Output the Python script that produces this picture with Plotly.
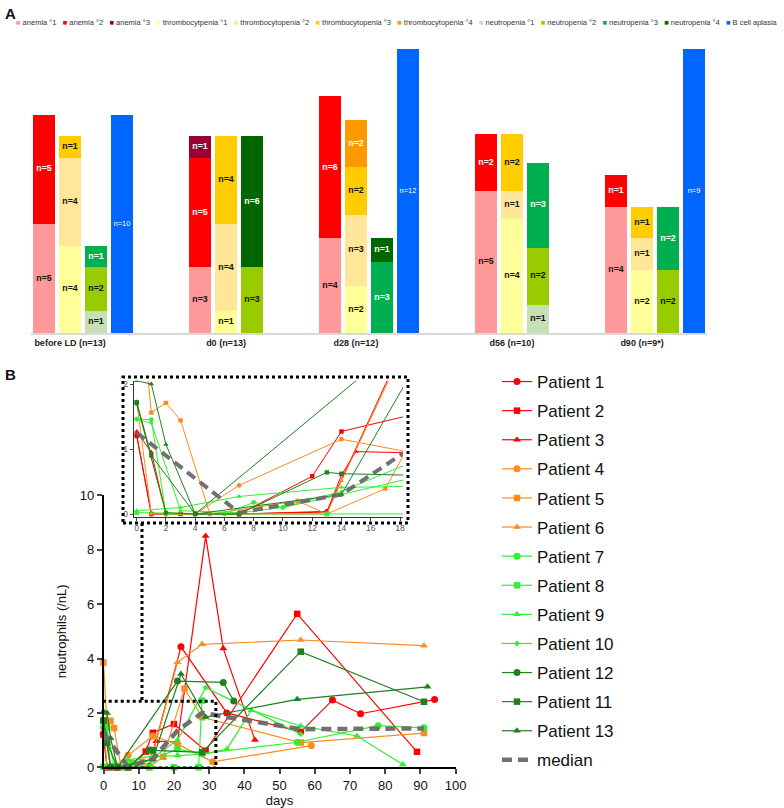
import plotly.graph_objects as go

W, H = 784, 808
FONT = "Liberation Sans, Arial, Helvetica, sans-serif"

# ---------------- Panel A data ----------------
groups = ["before LD (n=13)", "d0 (n=13)", "d28 (n=12)", "d56 (n=10)", "d90 (n=9*)"]
group_n = [13, 13, 12, 10, 9]

anemia_1 = [5, 3, 4, 5, 4]
anemia_2 = [5, 5, 6, 2, 1]
anemia_3 = [0, 1, 0, 0, 0]
thrombo_1 = [4, 1, 2, 4, 2]
thrombo_2 = [4, 4, 3, 1, 1]
thrombo_3 = [1, 4, 2, 2, 1]
thrombo_4 = [0, 0, 2, 0, 0]
neutro_1 = [1, 0, 0, 1, 0]
neutro_2 = [2, 3, 0, 2, 2]
neutro_3 = [1, 0, 3, 3, 2]
neutro_4 = [0, 6, 1, 0, 0]
bcell = [10, 0, 12, 0, 9]

series_names = ["anemia °1", "anemia °2", "anemia °3",
                "thrombocytpenia °1", "thrombocytopenia °2", "thrombocytopenia °3", "thrombocytopenia °4",
                "neutropenia °1", "neutropenia °2", "neutropenia °3", "neutropenia °4", "B cell aplasia"]
series_counts = [anemia_1, anemia_2, anemia_3, thrombo_1, thrombo_2, thrombo_3, thrombo_4,
                 neutro_1, neutro_2, neutro_3, neutro_4, bcell]
series_stack = [0, 0, 0, 1, 1, 1, 1, 2, 2, 2, 2, 3]

colors_A = ["#FF9999", "#FF0000", "#990033", "#FFFF99", "#FFE699", "#FFCC00", "#FF9900",
            "#C6E0B4", "#99CC00", "#00B050", "#006600", "#0066FF"]
textcol_A = ["#111", "#fff", "#fff", "#111", "#111", "#111", "#fff",
             "#111", "#111", "#fff", "#fff", "#fff"]

# ---------------- Panel B data ----------------
p1_days = [0, 1, 2, 7, 13, 22, 35, 56, 65, 73, 94]
p1_vals = [1.22, 0, 0, 0, 0.04, 4.43, 2.0, 1.3, 2.47, 1.97, 2.49]
p2_days = [0, 1, 3, 7, 12, 14, 20, 29, 55, 89]
p2_vals = [1.2, 0, 0, 0, 0.58, 1.27, 1.59, 0.61, 5.64, 0.57]
p3_days = [0, 1, 2, 7, 13, 14, 15, 21, 29, 34, 43]
p3_vals = [1.27, 0.95, 0, 0, 0.03, 0.6, 0.96, 0.93, 8.5, 4.37, 1.0]
p4_days = [0, 2, 4, 7, 14, 21, 31, 59]
p4_vals = [1.72, 0, 0, 0.44, 1.15, 0.85, 0.2, 0.8]
p5_days = [0, 1, 2, 3, 5, 11, 13, 17, 23, 28, 56, 91]
p5_vals = [3.85, 1.56, 1.71, 1.44, 0, 0.2, 0, 0.39, 2.89, 1.84, 0.91, 1.26]
p6_days = [0, 1, 3, 7, 13, 14, 21, 28, 56, 91]
p6_vals = [1.73, 0, 0, 0, 0, 0.51, 3.86, 4.52, 4.68, 4.47]
p7_days = [0, 1, 2, 6, 8, 10, 14, 21, 28, 55, 78, 91]
p7_vals = [1.46, 1.45, 0, 0, 0.18, 0.1, 0.3, 0.67, 0.5, 0.92, 1.53, 1.45]
p8_days = [0, 7, 13, 20, 27, 28]
p8_vals = [0.02, 0, 0, 0, 0, 2.45]
p9_days = [0, 3, 7, 14, 21, 28, 35, 42, 56, 72, 85]
p9_vals = [0.05, 0.1, 0.27, 0.41, 0.43, 0.48, 0.66, 2.1, 1.52, 1.15, 0.1]
p10_days = [0, 1, 3, 7, 10, 14, 21, 29, 56]
p10_vals = [1.45, 1.4, 0.05, 0.02, 0.1, 0.35, 1.0, 2.93, 1.22]
p12_days = [0, 2, 4, 21, 34, 37]
p12_vals = [1.7, 0.02, 0, 3.17, 3.12, 2.44]
p11_days = [0, 1, 4, 7, 13, 14, 28, 56, 91]
p11_vals = [1.72, 0.9, 0, 0, 0.64, 0.62, 0.55, 4.25, 2.41]
p13_days = [0, 1, 2, 4, 14, 22, 29, 55, 92]
p13_vals = [2.05, 2.0, 1.07, 0, 0.3, 3.43, 1.85, 2.5, 2.96]
median_days = [0, 7, 14, 21, 28, 56, 91]
median_vals = [1.25, 0.02, 0.3, 1.35, 2.0, 1.4, 1.43]

RED, ORANGE, LGREEN, DGREEN = "#FF0000", "#FF8A1F", "#33EE33", "#1F801F"
patients = [
    ("Patient 1", p1_days, p1_vals, RED, "circle", 7),
    ("Patient 2", p2_days, p2_vals, RED, "square", 6.5),
    ("Patient 3", p3_days, p3_vals, RED, "triangle-up", 7),
    ("Patient 4", p4_days, p4_vals, ORANGE, "circle", 7),
    ("Patient 5", p5_days, p5_vals, ORANGE, "square", 6.5),
    ("Patient 6", p6_days, p6_vals, ORANGE, "triangle-up", 7),
    ("Patient 7", p7_days, p7_vals, LGREEN, "circle", 7),
    ("Patient 8", p8_days, p8_vals, LGREEN, "square", 6.5),
    ("Patient 9", p9_days, p9_vals, LGREEN, "triangle-up", 7),
    ("Patient 10", p10_days, p10_vals, LGREEN, "diamond", 4.5),
    ("Patient 12", p12_days, p12_vals, DGREEN, "circle", 7),
    ("Patient 11", p11_days, p11_vals, DGREEN, "square", 6.5),
    ("Patient 13", p13_days, p13_vals, DGREEN, "triangle-up", 7),
]

fig = go.Figure()

# ---------------- Panel A bars ----------------
slot_base = []
s = 0
for b in bcell:
    slot_base.append(s)
    s += (4 if b > 0 else 3) - 1 + 3

cum = {}
label_traces = []
for k, name in enumerate(series_names):
    xs, ys, mids, txt = [], [], [], []
    for i, c in enumerate(series_counts[k]):
        if c <= 0:
            continue
        x = slot_base[i] + series_stack[k]
        h = c / group_n[i] * 100
        b0 = cum.get(x, 0)
        xs.append(x); ys.append(h); mids.append(b0 + h / 2)
        txt.append(f"n={c}" if name == "B cell aplasia" else f"<b>n={c}</b>")
        cum[x] = b0 + h
    fig.add_trace(go.Bar(x=xs, y=ys, name=name, width=0.83, marker=dict(color=colors_A[k], line=dict(width=0)),
                         showlegend=False, xaxis="x", yaxis="y", hoverinfo="skip"))
    label_traces.append(go.Scatter(x=xs, y=mids, text=txt, mode="text", showlegend=False,
                                   textfont=dict(color=textcol_A[k], size=7.5 if name == "B cell aplasia" else 8.8,
                                                 family=FONT),
                                   xaxis="x", yaxis="y", hoverinfo="skip"))
for t in label_traces:
    fig.add_trace(t)

# ---------------- Panel B lines ----------------
for name, d, v, col, sym, ms in patients:
    fig.add_trace(go.Scatter(x=d, y=v, name=name, mode="lines+markers", legend="legend2", legendgroup=name,
                             line=dict(color=col, width=1.2),
                             marker=dict(symbol=sym, size=ms, color=col),
                             cliponaxis=False, xaxis="x2", yaxis="y2", hoverinfo="skip"))
fig.add_trace(go.Scatter(x=median_days, y=median_vals, name="median", mode="lines", legend="legend2",
                         legendgroup="median",
                         line=dict(color="rgba(105,105,105,0.95)", width=4.5, dash="10px,6px"),
                         xaxis="x2", yaxis="y2", hoverinfo="skip"))
# inset
for name, d, v, col, sym, ms in patients:
    fig.add_trace(go.Scatter(x=d, y=v, mode="lines+markers", showlegend=False, legendgroup=name,
                             line=dict(color=col, width=1),
                             marker=dict(symbol=sym, size=ms * 0.68, color=col),
                             xaxis="x3", yaxis="y3", hoverinfo="skip"))
fig.add_trace(go.Scatter(x=median_days, y=median_vals, mode="lines", showlegend=False, legendgroup="median",
                         line=dict(color="rgba(105,105,105,0.95)", width=4, dash="10px,6px"),
                         xaxis="x3", yaxis="y3", hoverinfo="skip"))

# ---------------- legend A as rich text ----------------
items = [f"<span style='color:{c}'>■</span> {n}" for n, c in zip(series_names, colors_A)]
legendA = "&nbsp;&nbsp;&nbsp;".join(items)

def px(xp):
    return xp / W

def py(yp):
    return 1 - yp / H

axis_common = dict(showgrid=False, zeroline=False, automargin=False)
fig.update_layout(
    width=W, height=H, margin=dict(l=0, r=0, t=0, b=0, pad=0, autoexpand=False),
    paper_bgcolor="white", plot_bgcolor="rgba(0,0,0,0)",
    font=dict(family=FONT, color="#111"),
    barmode="stack", hovermode=False,
    xaxis=dict(domain=[px(31), px(707)], range=[-0.5, 25.5], anchor="y",
               tickvals=[b + 1 for b in slot_base], ticktext=[f"<b>{g}</b>" for g in groups],
               tickfont=dict(size=9, color="#222"), ticks="", showline=True, linecolor="#D9D9D9",
               linewidth=1.5, **axis_common),
    yaxis=dict(domain=[py(333), py(49)], range=[0, 100], anchor="x", visible=False, **axis_common),
    xaxis2=dict(domain=[px(103.5), px(455.7)], range=[0, 100], anchor="y2", dtick=10, tick0=0,
                ticks="outside", ticklen=5, tickwidth=1.5, showline=True, linecolor="black", linewidth=1.5,
                tickfont=dict(size=13), title=dict(text="days", font=dict(size=13), standoff=4),
                **axis_common),
    yaxis2=dict(domain=[py(767.3), py(495.3)], range=[0, 10], anchor="x2", dtick=2, tick0=0,
                ticks="outside", ticklen=5, tickwidth=1.5, showline=True, linecolor="black", linewidth=1.5,
                tickfont=dict(size=13), title=dict(text="neutrophils (/nL)", font=dict(size=13), standoff=10),
                **axis_common),
    xaxis3=dict(domain=[px(136.7 - 0.2 * 14.63), px(400 + 0.2 * 14.63)], range=[-0.2, 18.2], anchor="y3",
                dtick=2, tick0=0, ticks="outside", ticklen=3, showline=True, linecolor="#333", linewidth=1,
                tickfont=dict(size=8.5, color="#555"), **axis_common),
    yaxis3=dict(domain=[py(514 + 0.05 * 65), py(384 - 0.05 * 65)], range=[-0.05, 2.05], anchor="x3",
                dtick=1, tick0=0, ticks="outside", ticklen=3, showline=True, linecolor="#333", linewidth=1,
                tickfont=dict(size=8.5, color="#555"), **axis_common),
    legend2=dict(x=px(497), y=py(364), xanchor="left", yanchor="top", font=dict(size=17, color="#111"),
                 traceorder="grouped", tracegroupgap=4, bgcolor="rgba(0,0,0,0)", itemwidth=30),
    shapes=[
        dict(type="rect", xref="paper", yref="paper", x0=px(123), x1=px(408), y0=py(523), y1=py(377),
             line=dict(color="black", width=3, dash="dot")),
        dict(type="rect", xref="x2", yref="y2", x0=-1.3, x1=31.9, y0=-0.03, y1=2.43,
             line=dict(color="black", width=3, dash="dot")),
        dict(type="line", xref="paper", yref="paper", x0=px(142), x1=px(142), y0=py(523), y1=py(701),
             line=dict(color="black", width=3, dash="dot")),
    ],
    annotations=[
        dict(text="<b>A</b>", x=px(3), y=py(3), xref="paper", yref="paper", xanchor="left", yanchor="top",
             showarrow=False, font=dict(size=15)),
        dict(text="<b>B</b>", x=px(3), y=py(364), xref="paper", yref="paper", xanchor="left", yanchor="top",
             showarrow=False, font=dict(size=15)),
        dict(text=legendA, x=px(14), y=py(22), xref="paper", yref="paper", xanchor="left", yanchor="middle",
             showarrow=False, font=dict(size=7.5, color="#333")),
    ],
)

fig.write_html("out.html", config={"displayModeBar": False},
               post_script="document.body.style.margin='0';document.body.style.padding='0';"
                           "document.body.style.overflow='hidden';")
